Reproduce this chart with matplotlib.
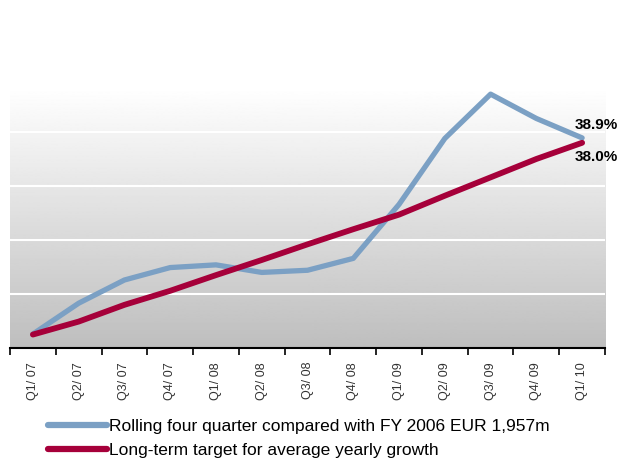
#!/usr/bin/env python3
"""Rolling four quarter growth vs long-term target."""

import numpy as np
import matplotlib.pyplot as plt
from matplotlib.lines import Line2D

plt.rcParams["font.family"] = ["Liberation Sans", "DejaVu Sans"]

quarters = ["Q1/ 07", "Q2/ 07", "Q3/ 07", "Q4/ 07", "Q1/ 08", "Q2/ 08", "Q3/ 08",
            "Q4/ 08", "Q1/ 09", "Q2/ 09", "Q3/ 09", "Q4/ 09", "Q1/ 10"]
rolling = [2.6, 8.3, 12.6, 14.9, 15.4, 14.0, 14.4, 16.6, 26.6, 38.8, 47.0, 42.5, 38.9]
target = [2.5, 4.9, 8.0, 10.6, 13.5, 16.3, 19.2, 22.0, 24.7, 28.2, 31.6, 35.0, 38.0]

series_labels = ["Rolling four quarter compared with FY 2006 EUR 1,957m",
                 "Long-term target for average yearly growth"]
end_labels = ["38.9%", "38.0%"]

BLUE = "#7ba0c4"
RED = "#a6003a"


def main() -> None:
    fig = plt.figure(figsize=(6.22, 4.61), dpi=100)
    ax = fig.add_axes([0.0161, 0.245, 0.9566, 0.566])

    x = np.arange(len(quarters))
    ymax = 48.3
    ax.set_xlim(-0.5, len(quarters) - 0.5)
    ax.set_ylim(0, ymax)

    # grey gradient background
    grad = np.linspace(0.745, 1.0, 256).reshape(-1, 1)
    ax.imshow(grad, cmap="gray", vmin=0, vmax=1, aspect="auto", origin="lower",
              extent=[-0.5, len(quarters) - 0.5, 0, ymax], zorder=0)

    for gy in [10, 20, 30, 40]:
        ax.axhline(gy, color="white", lw=1.5, zorder=1)

    ax.plot(x, rolling, color=BLUE, lw=3.8, solid_capstyle="round", zorder=3)
    ax.plot(x, target, color=RED, lw=4.2, solid_capstyle="round", zorder=4)

    ax.annotate(end_labels[0], xy=(x[-1], rolling[-1]), xytext=(-7, 13),
                textcoords="offset pixels", fontsize=11, fontweight="bold",
                ha="left", va="center", annotation_clip=False)
    ax.annotate(end_labels[1], xy=(x[-1], target[-1]), xytext=(-7, -14),
                textcoords="offset pixels", fontsize=11, fontweight="bold",
                ha="left", va="center", annotation_clip=False)

    for side in ["top", "right", "left"]:
        ax.spines[side].set_visible(False)
    ax.spines["bottom"].set_linewidth(1.5)
    ax.spines["bottom"].set_zorder(5)
    ax.set_yticks([])

    ax.set_xticks(x)
    ax.set_xticklabels(quarters, rotation=90, fontsize=9, color="#333333")
    ax.set_xticks(np.arange(len(quarters) + 1) - 0.5, minor=True)
    ax.tick_params(axis="x", which="major", length=0, pad=10)
    ax.tick_params(axis="x", which="minor", length=5, width=1.2, direction="out")

    handles = [Line2D([], [], color=BLUE, lw=4.5, solid_capstyle="round"),
               Line2D([], [], color=RED, lw=4.5, solid_capstyle="round")]
    fig.legend(handles, series_labels, loc="upper left",
               bbox_to_anchor=(0.077, 0.092), frameon=False, fontsize=12.5,
               handlelength=3.4, handletextpad=0.1, labelspacing=0.55,
               borderpad=0, borderaxespad=0)

    fig.savefig("out.png", dpi=100)


if __name__ == "__main__":
    main()
